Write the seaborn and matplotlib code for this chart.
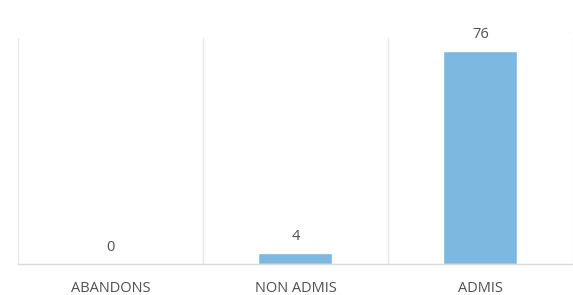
import matplotlib
matplotlib.use("Agg")
import matplotlib.pyplot as plt
import seaborn as sns
import pandas as pd

# Données
categories = ["ABANDONS", "NON ADMIS", "ADMIS"]
valeurs = [0, 4, 76]

df = pd.DataFrame({"Statut": categories, "Effectif": valeurs})

sns.set_style("white")
plt.rcParams["font.family"] = ["Open Sans", "DejaVu Sans"]

fig = plt.figure(figsize=(5.73, 2.95), dpi=100)
ax = fig.add_axes([0.031, 0.105, 0.969, 0.766])

sns.barplot(data=df, x="Statut", y="Effectif", color="#7DB8E0", width=0.4,
            saturation=1, ax=ax)

ax.set_xlim(-0.5, 2.5)
ax.set_ylim(0, 80.5)

# lignes verticales entre les catégories
for x in [-0.5, 0.5, 1.5, 2.5]:
    ax.axvline(x, color="#E6E6E6", lw=0.9, zorder=0)

for sp in ["top", "right", "left"]:
    ax.spines[sp].set_visible(False)
ax.spines["bottom"].set_color("#D9D9D9")
ax.spines["bottom"].set_linewidth(1.0)

ax.set_yticks([])
ax.set_xlabel("")
ax.set_ylabel("")
ax.tick_params(axis="x", length=0, pad=12, labelsize=10.5, labelcolor="#505050")

for i, v in enumerate(valeurs):
    ax.annotate(str(v), xy=(i, v), xytext=(0, 12), textcoords="offset points",
                ha="center", va="center", fontsize=10.5, color="#505050")

plt.savefig("out.png", dpi=100)
plt.close()
